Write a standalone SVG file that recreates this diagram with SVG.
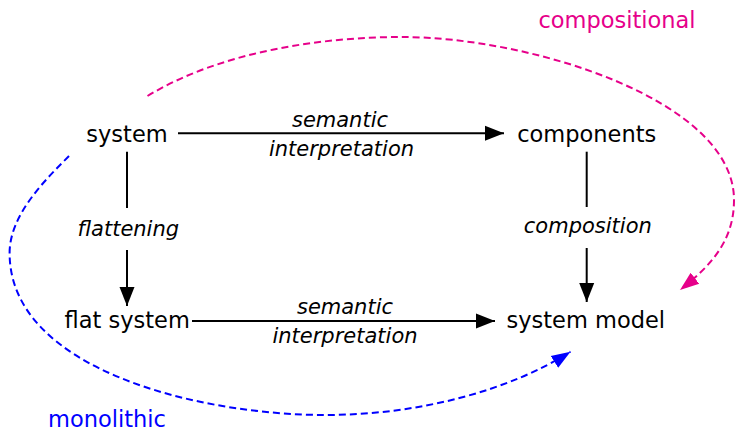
<svg xmlns="http://www.w3.org/2000/svg" width="738" height="431" viewBox="0 0 738 431">
<style>
.node{font-family:"DejaVu Sans",sans-serif;font-size:22.5px;fill:#000;text-anchor:middle}
.lbl{font-family:"DejaVu Sans",sans-serif;font-size:21px;font-style:italic;fill:#000;text-anchor:middle}
.edge{stroke:#000;stroke-width:2;fill:none}
.dash{stroke-width:2;fill:none;stroke-dasharray:7 4}
</style>
<defs>
<marker id="ah" markerUnits="userSpaceOnUse" markerWidth="20" markerHeight="16" refX="19" refY="8" orient="auto" viewBox="0 0 20 16"><path d="M0,0.5 L19,8 L0,15.5 Z" fill="#000"/></marker>
<marker id="ahm" markerUnits="userSpaceOnUse" markerWidth="20" markerHeight="16" refX="19" refY="8" orient="auto" viewBox="0 0 20 16"><path d="M0,1 L19,8 L0,15 Z" fill="#e6008a"/></marker>
<marker id="ahb" markerUnits="userSpaceOnUse" markerWidth="20" markerHeight="16" refX="19" refY="8" orient="auto" viewBox="0 0 20 16"><path d="M0,1 L19,8 L0,15 Z" fill="#0000ff"/></marker>
</defs>
<rect width="738" height="431" fill="#fff"/>
<g id="connectors">
<line class="edge" x1="178" y1="133.3" x2="504" y2="133.3" marker-end="url(#ah)"/>
<line class="edge" x1="192" y1="321" x2="495" y2="321" marker-end="url(#ah)"/>
<line class="edge" x1="127" y1="151.7" x2="127" y2="208"/>
<line class="edge" x1="127" y1="250" x2="127" y2="306" marker-end="url(#ah)"/>
<line class="edge" x1="586.7" y1="151.7" x2="586.7" y2="207"/>
<line class="edge" x1="586.7" y1="248" x2="586.7" y2="302" marker-end="url(#ah)"/>
<path class="dash" stroke="#e6008a" d="M147.5,96 C220,52 320,37 402,37 C530,37 734,100 734,200 C734,240 712,265 680,290" marker-end="url(#ahm)"/>
<path class="dash" stroke="#0000ff" d="M69,156 C45,180 9.6,215 9.6,253 C9.6,370 200,415 325,415 C420,415 510,390 570.5,351.7" marker-end="url(#ahb)"/>
<text class="lbl" x="340" y="127">semantic</text>
<text class="lbl" x="341.5" y="156">interpretation</text>
<text class="lbl" x="345" y="314">semantic</text>
<text class="lbl" x="345" y="343">interpretation</text>
<text class="lbl" x="128.3" y="235.5">flattening</text>
<text class="lbl" x="587.8" y="233.3">composition</text>
<text class="node" x="617" y="28.3" style="fill:#e6008a">compositional</text>
<text class="node" x="107" y="427" style="fill:#0000ff">monolithic</text>
</g>
<g id="system"><text class="node" x="127" y="141.5">system</text></g>
<g id="components"><text class="node" x="586.7" y="141.5">components</text></g>
<g id="flat-system"><text class="node" x="127.2" y="328.3">flat system</text></g>
<g id="system-model"><text class="node" x="585.8" y="328.3">system model</text></g>
</svg>
